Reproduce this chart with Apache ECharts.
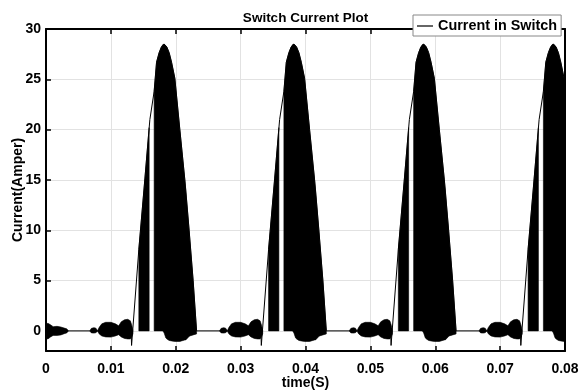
<!DOCTYPE html>
<html>
<head>
<meta charset="utf-8">
<script src="https://cdn.jsdelivr.net/npm/echarts@6.0.0/dist/echarts.min.js"></script>
<style>
  html, body { margin: 0; padding: 0; background: #fff; }
  #chart { width: 580px; height: 391px; }
</style>
</head>
<body>
<div id="chart"></div>
<script>
// Axis ticks
const timeTicks = [0, 0.01, 0.02, 0.03, 0.04, 0.05, 0.06, 0.07, 0.08];
const currentTicks = [0, 5, 10, 15, 20, 25, 30];

// Thin switch-current trace: [time (s), current (A)]
const switchTrace = [
  [0, 0], [0.01312, 0], [0.01319, -1.45], [0.01431, 8.1], [0.01524, 15.1], [0.01601, 21.0],
  [0.01667, 23.8], [0.01704, 26.7], [0.01744, 27.65], [0.01778, 28.2], [0.01821, 28.5],
  [0.01863, 28.2], [0.01898, 27.65], [0.01935, 26.7], [0.01986, 25.1], [0.02063, 20.0],
  [0.02140, 15.0], [0.02206, 10.0], [0.02268, 5.0], [0.02321, 0],
  [0.03312, 0], [0.03319, -1.45], [0.03431, 8.1], [0.03524, 15.1], [0.03601, 21.0],
  [0.03667, 23.8], [0.03704, 26.7], [0.03744, 27.65], [0.03778, 28.2], [0.03821, 28.5],
  [0.03863, 28.2], [0.03898, 27.65], [0.03935, 26.7], [0.03986, 25.1], [0.04063, 20.0],
  [0.04140, 15.0], [0.04206, 10.0], [0.04268, 5.0], [0.04321, 0],
  [0.05312, 0], [0.05319, -1.45], [0.05431, 8.1], [0.05524, 15.1], [0.05601, 21.0],
  [0.05667, 23.8], [0.05704, 26.7], [0.05744, 27.65], [0.05778, 28.2], [0.05821, 28.5],
  [0.05863, 28.2], [0.05898, 27.65], [0.05935, 26.7], [0.05986, 25.1], [0.06063, 20.0],
  [0.06140, 15.0], [0.06206, 10.0], [0.06268, 5.0], [0.06321, 0],
  [0.07312, 0], [0.07319, -1.45], [0.07431, 8.1], [0.07524, 15.1], [0.07601, 21.0],
  [0.07667, 23.8], [0.07704, 26.7], [0.07744, 27.65], [0.07778, 28.2], [0.07821, 28.5],
  [0.07863, 28.2], [0.07898, 27.65], [0.07935, 26.7], [0.07986, 25.1], [0.08000, 24.3]
];

// Switching envelopes, each point is [time (s), upper (A), lower (A)]
const rippleAtStart = [
  [0.0000, 0.70, -0.75], [0.0003, 0.75, -0.80], [0.0007, 0.60, -0.60], [0.0011, 0.42, -0.45],
  [0.0017, 0.45, -0.45], [0.0023, 0.38, -0.40], [0.0028, 0.28, -0.28], [0.0032, 0.20, -0.20],
  [0.0034, 0.05, -0.05]
];

const pulse1Blip = [[0.0068, 0.05, -0.05], [0.0070, 0.25, -0.20], [0.0074, 0.32, -0.22], [0.0077, 0.26, -0.18], [0.0079, 0.05, -0.05]];
const pulse1Ripple = [
  [0.0080, 0.08, -0.08], [0.0082, 0.35, -0.30], [0.0086, 0.70, -0.50], [0.0092, 0.85, -0.60],
  [0.0100, 0.85, -0.62], [0.0107, 0.70, -0.50], [0.0112, 0.50, -0.38], [0.0116, 0.90, -0.60],
  [0.0121, 1.10, -0.75], [0.0126, 1.15, -0.80], [0.0130, 1.00, -0.80], [0.0132, 0.60, -0.60],
  [0.0134, 0.05, -0.30]
];
const pulse1Lead = [[0.01431, 8.1, 0], [0.0151, 14.0, 0], [0.0159, 20.2, 0]];
const pulse1Main = [
  [0.01667, 23.8, 0], [0.01704, 26.7, 0], [0.01744, 27.65, 0], [0.01778, 28.2, 0],
  [0.01801, 28.45, 0], [0.01821, 28.5, -0.2], [0.01847, 28.35, -0.7], [0.01863, 28.2, -0.8],
  [0.01898, 27.65, -0.95], [0.01935, 26.7, -1.0], [0.01986, 25.1, -1.05], [0.02063, 20.0, -1.05],
  [0.02140, 15.0, -0.9], [0.02155, 14.0, -0.9], [0.02206, 10.0, -0.55], [0.02217, 9.1, -0.5],
  [0.02268, 5.0, -0.4], [0.02321, 0.0, -0.3]
];

const pulse2Blip = [[0.0268, 0.05, -0.05], [0.0270, 0.25, -0.20], [0.0274, 0.32, -0.22], [0.0277, 0.26, -0.18], [0.0279, 0.05, -0.05]];
const pulse2Ripple = [
  [0.0280, 0.08, -0.08], [0.0282, 0.35, -0.30], [0.0286, 0.70, -0.50], [0.0292, 0.85, -0.60],
  [0.0300, 0.85, -0.62], [0.0307, 0.70, -0.50], [0.0312, 0.50, -0.38], [0.0316, 0.90, -0.60],
  [0.0321, 1.10, -0.75], [0.0326, 1.15, -0.80], [0.0330, 1.00, -0.80], [0.0332, 0.60, -0.60],
  [0.0334, 0.05, -0.30]
];
const pulse2Lead = [[0.03431, 8.1, 0], [0.0351, 14.0, 0], [0.0359, 20.2, 0]];
const pulse2Main = [
  [0.03667, 23.8, 0], [0.03704, 26.7, 0], [0.03744, 27.65, 0], [0.03778, 28.2, 0],
  [0.03801, 28.45, 0], [0.03821, 28.5, -0.2], [0.03847, 28.35, -0.7], [0.03863, 28.2, -0.8],
  [0.03898, 27.65, -0.95], [0.03935, 26.7, -1.0], [0.03986, 25.1, -1.05], [0.04063, 20.0, -1.05],
  [0.04140, 15.0, -0.9], [0.04155, 14.0, -0.9], [0.04206, 10.0, -0.55], [0.04217, 9.1, -0.5],
  [0.04268, 5.0, -0.4], [0.04321, 0.0, -0.3]
];

const pulse3Blip = [[0.0468, 0.05, -0.05], [0.0470, 0.25, -0.20], [0.0474, 0.32, -0.22], [0.0477, 0.26, -0.18], [0.0479, 0.05, -0.05]];
const pulse3Ripple = [
  [0.0480, 0.08, -0.08], [0.0482, 0.35, -0.30], [0.0486, 0.70, -0.50], [0.0492, 0.85, -0.60],
  [0.0500, 0.85, -0.62], [0.0507, 0.70, -0.50], [0.0512, 0.50, -0.38], [0.0516, 0.90, -0.60],
  [0.0521, 1.10, -0.75], [0.0526, 1.15, -0.80], [0.0530, 1.00, -0.80], [0.0532, 0.60, -0.60],
  [0.0534, 0.05, -0.30]
];
const pulse3Lead = [[0.05431, 8.1, 0], [0.0551, 14.0, 0], [0.0559, 20.2, 0]];
const pulse3Main = [
  [0.05667, 23.8, 0], [0.05704, 26.7, 0], [0.05744, 27.65, 0], [0.05778, 28.2, 0],
  [0.05801, 28.45, 0], [0.05821, 28.5, -0.2], [0.05847, 28.35, -0.7], [0.05863, 28.2, -0.8],
  [0.05898, 27.65, -0.95], [0.05935, 26.7, -1.0], [0.05986, 25.1, -1.05], [0.06063, 20.0, -1.05],
  [0.06140, 15.0, -0.9], [0.06155, 14.0, -0.9], [0.06206, 10.0, -0.55], [0.06217, 9.1, -0.5],
  [0.06268, 5.0, -0.4], [0.06321, 0.0, -0.3]
];

const pulse4Blip = [[0.0668, 0.05, -0.05], [0.0670, 0.25, -0.20], [0.0674, 0.32, -0.22], [0.0677, 0.26, -0.18], [0.0679, 0.05, -0.05]];
const pulse4Ripple = [
  [0.0680, 0.08, -0.08], [0.0682, 0.35, -0.30], [0.0686, 0.70, -0.50], [0.0692, 0.85, -0.60],
  [0.0700, 0.85, -0.62], [0.0707, 0.70, -0.50], [0.0712, 0.50, -0.38], [0.0716, 0.90, -0.60],
  [0.0721, 1.10, -0.75], [0.0726, 1.15, -0.80], [0.0730, 1.00, -0.80], [0.0732, 0.60, -0.60],
  [0.0734, 0.05, -0.30]
];
const pulse4Lead = [[0.07431, 8.1, 0], [0.0751, 14.0, 0], [0.0759, 20.2, 0]];
const pulse4Main = [
  [0.07667, 23.8, 0], [0.07704, 26.7, 0], [0.07744, 27.65, 0], [0.07778, 28.2, 0],
  [0.07801, 28.45, 0], [0.07821, 28.5, -0.2], [0.07847, 28.35, -0.7], [0.07863, 28.2, -0.8],
  [0.07898, 27.65, -0.95], [0.07935, 26.7, -1.0], [0.07986, 25.1, -1.05], [0.08000, 24.3, -1.05]
];

const envelopes = [
  rippleAtStart,
  pulse1Blip, pulse1Ripple, pulse1Lead, pulse1Main,
  pulse2Blip, pulse2Ripple, pulse2Lead, pulse2Main,
  pulse3Blip, pulse3Ripple, pulse3Lead, pulse3Main,
  pulse4Blip, pulse4Ripple, pulse4Lead, pulse4Main
];

const FONT = 'Liberation Sans, Arial, Helvetica, sans-serif';
const boldText = { color: '#000', fontFamily: FONT, fontWeight: 'bold', fontSize: 14 };
const frameLine = { show: true, onZero: false, lineStyle: { color: '#000', width: 2 } };
const innerTick = { show: true, inside: true, length: 5, lineStyle: { color: '#000', width: 1.5 } };
const gridLine = { show: true, lineStyle: { color: '#e2e2e2', width: 1, type: 'solid' } };

const chart = echarts.init(document.getElementById('chart'), null, { renderer: 'canvas' });

chart.setOption({
  animation: false,
  backgroundColor: '#fff',
  title: {
    text: 'Switch Current Plot',
    left: 305.5, top: 11, textAlign: 'center', padding: 0,
    textStyle: Object.assign({}, boldText, { fontSize: 13.5 })
  },
  legend: {
    data: [{ name: 'Current in Switch', icon: 'rect' }],
    left: 413, top: 15,
    padding: [4, 4, 3, 4],
    itemWidth: 16, itemHeight: 1.2,
    itemStyle: { color: '#000', borderWidth: 0 },
    backgroundColor: '#fff',
    borderColor: '#888', borderWidth: 1,
    textStyle: Object.assign({}, boldText, { fontSize: 14.4, padding: [0, 0, 0, 0] })
  },
  grid: { left: 46, right: 15, top: 29, bottom: 40, containLabel: false, outerBoundsMode: 'none' },
  xAxis: [
    {
      type: 'value', position: 'bottom', min: 0, max: 0.08, interval: 0.01,
      name: 'time(S)', nameLocation: 'middle', nameGap: 25, nameMoveOverlap: false,
      nameTextStyle: boldText,
      axisLine: frameLine, axisTick: innerTick, splitLine: gridLine,
      axisLabel: Object.assign({}, boldText, {
        margin: 11,
        customValues: timeTicks,
        formatter: v => String(Number(v.toFixed(2)))
      })
    },
    {
      type: 'value', position: 'top', min: 0, max: 0.08, interval: 0.01,
      axisLine: frameLine, axisTick: innerTick,
      axisLabel: { show: false }, splitLine: { show: false }
    }
  ],
  yAxis: [
    {
      type: 'value', position: 'left', min: -2, max: 30,
      name: 'Current(Amper)', nameLocation: 'middle', nameGap: 21, nameMoveOverlap: false,
      nameTextStyle: boldText,
      axisLine: frameLine,
      axisTick: Object.assign({}, innerTick, { customValues: currentTicks }),
      splitLine: gridLine,
      axisLabel: Object.assign({}, boldText, { margin: 5, customValues: currentTicks })
    },
    {
      type: 'value', position: 'right', min: -2, max: 30,
      axisLine: frameLine,
      axisTick: Object.assign({}, innerTick, { customValues: currentTicks }),
      axisLabel: { show: false }, splitLine: { show: false }
    }
  ],
  series: [
    {
      name: 'Current in Switch',
      type: 'line',
      data: switchTrace,
      showSymbol: false,
      symbol: 'none',
      clip: true,
      z: 3,
      lineStyle: { color: '#000', width: 1 },
      itemStyle: { color: '#000' }
    },
    {
      name: 'switching envelope',
      type: 'custom',
      clip: true,
      silent: true,
      z: 2,
      data: envelopes.map(e => [e[0][0], e[0][1]]),
      encode: { x: 0, y: 1 },
      renderItem: function (params, api) {
        const env = envelopes[params.dataIndex];
        const upper = env.map(p => api.coord([p[0], p[1]]));
        const lower = env.slice().reverse().map(p => api.coord([p[0], p[2]]));
        return {
          type: 'polygon',
          shape: { points: upper.concat(lower) },
          style: { fill: '#000', stroke: '#000', lineWidth: 0.6 }
        };
      }
    }
  ]
});
</script>
</body>
</html>
